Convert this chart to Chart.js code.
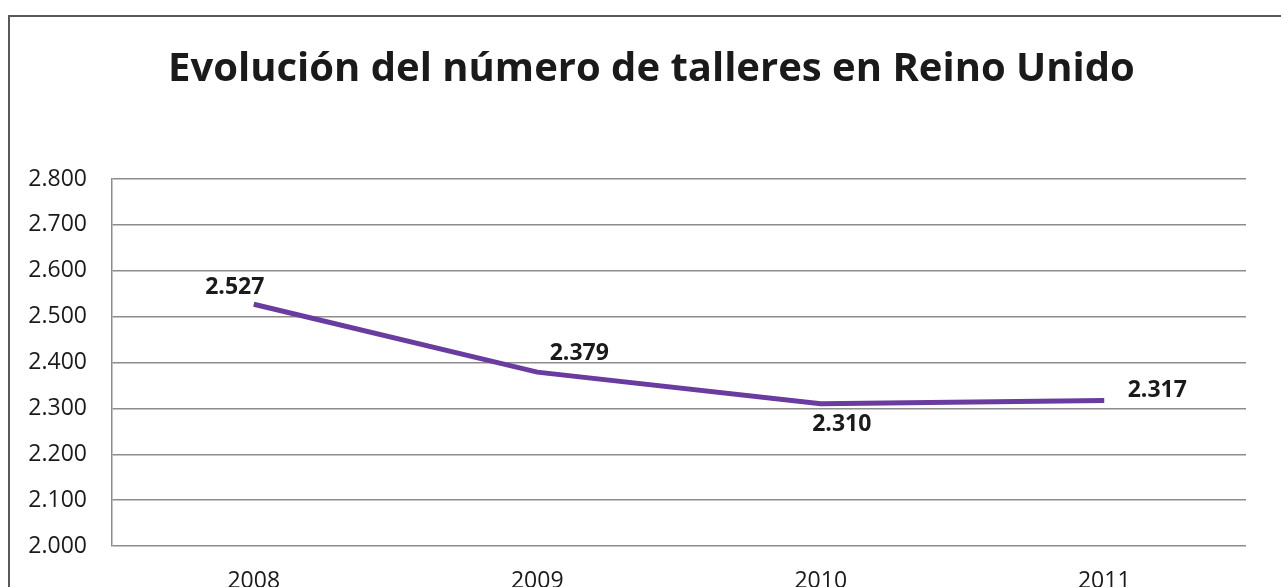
<!DOCTYPE html>
<html>
<head>
<meta charset="utf-8">
<script src="https://cdn.jsdelivr.net/npm/chart.js@4/dist/chart.umd.min.js"></script>
<style>
  html, body { margin: 0; padding: 0; background: #fff; overflow: hidden; }
  #wrap { position: relative; width: 1281px; height: 587px; }
</style>
</head>
<body>
<div id="wrap"><canvas id="grafico" width="1281" height="587"></canvas></div>
<script>
// datos
const anios = ["2008", "2009", "2010", "2011"];
const talleres = [2527, 2379, 2310, 2317];
const titulo = "Evolución del número de talleres en Reino Unido";

// desplazamiento de cada etiqueta respecto a su punto (px)
const offsetsEtiquetas = [[-19, -17], [42, -19], [21, 21], [53, -10]];

const fuente = "'Open Sans', 'DejaVu Sans', sans-serif";

function formatoMiles(v) {
    return v.toLocaleString("de-DE");
}

// marco exterior + titulo centrado sobre el marco
const marco = {
    id: "marco",
    afterLayout(chart) {
        if (chart.titleBlock) {
            chart.titleBlock.left = 57;
        }
    },
    beforeDraw(chart) {
        const c = chart.ctx;
        c.save();
        c.strokeStyle = "#595959";
        c.lineWidth = 2;
        c.strokeRect(9, 16, 1400, 800);
        c.restore();
    }
};

// etiquetas de datos
const etiquetas = {
    id: "etiquetas",
    afterDatasetsDraw(chart) {
        const c = chart.ctx;
        const meta = chart.getDatasetMeta(0);
        c.save();
        c.font = "bold 23px " + fuente;
        c.fillStyle = "#1a1a1a";
        c.textAlign = "center";
        c.textBaseline = "middle";
        meta.data.forEach((p, i) => {
            const off = offsetsEtiquetas[i];
            c.fillText(formatoMiles(talleres[i]), p.x + off[0], p.y + off[1]);
        });
        c.restore();
    }
};

const ctx = document.getElementById("grafico").getContext("2d");
window.myChart = new Chart(ctx, {
    type: "line",
    data: {
        labels: anios,
        datasets: [{
            label: "Talleres",
            data: talleres,
            borderWidth: 5,
            borderColor: "#6a3c9f",
            pointRadius: 0,
            tension: 0,
            fill: false
        }]
    },
    options: {
        responsive: false,
        animation: false,
        layout: { padding: { left: 0, right: 35, top: 0, bottom: 0 } },
        plugins: {
            legend: { display: false },
            tooltip: { enabled: false },
            title: {
                display: true,
                text: titulo,
                color: "#1a1a1a",
                font: { family: fuente, size: 40, weight: "bold", lineHeight: 1.2 },
                padding: { top: 46, bottom: 85 }
            }
        },
        scales: {
            x: {
                offset: true,
                grid: { display: false, drawTicks: false },
                border: { display: false },
                ticks: {
                    color: "#1a1a1a",
                    padding: 22,
                    maxRotation: 0,
                    font: { family: fuente, size: 23 }
                },
                afterFit(s) { s.height = 41; }
            },
            y: {
                min: 2000,
                max: 2800,
                grid: { color: "#8c8c8c", lineWidth: 1.5, drawTicks: false },
                border: { display: true, color: "#8c8c8c", width: 1.5 },
                ticks: {
                    stepSize: 100,
                    color: "#1a1a1a",
                    padding: 25,
                    font: { family: fuente, size: 23 },
                    callback: (v) => formatoMiles(v)
                },
                afterFit(s) { s.width = 112; }
            }
        }
    },
    plugins: [marco, etiquetas]
});
</script>
</body>
</html>
